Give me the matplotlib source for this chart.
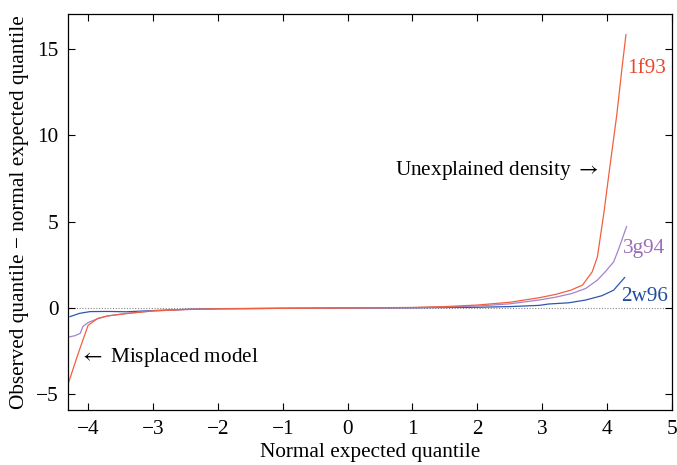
import matplotlib
matplotlib.use("Agg")
import matplotlib.pyplot as plt

plt.rcParams['font.family'] = ['Liberation Serif', 'DejaVu Serif']
plt.rcParams['mathtext.fontset'] = 'stix'

# quantile differences, observed - expected, for three structures
x_1f93 = [-4.30, -4.15, -4.00, -3.85, -3.70, -3.40, -3.00, -2.50, -2.00, -1.00,
          0.00, 1.00, 1.50, 2.00, 2.50, 2.95, 3.20, 3.44, 3.62, 3.77, 3.85,
          3.95, 4.04, 4.15, 4.23, 4.29]
y_1f93 = [-4.30, -2.60, -1.00, -0.60, -0.46, -0.32, -0.17, -0.09, -0.05, -0.02,
          0.00, 0.03, 0.08, 0.17, 0.33, 0.59, 0.78, 1.03, 1.32, 2.09, 2.95,
          5.50, 8.10, 11.20, 13.90, 15.80]

x_3g94 = [-4.30, -4.20, -4.12, -4.08, -4.00, -3.85, -3.70, -3.40, -3.00, -2.50,
          -2.00, -1.00, 0.00, 1.00, 1.50, 2.00, 2.50, 2.95, 3.20, 3.46, 3.67,
          3.85, 3.97, 4.10, 4.18, 4.30]
y_3g94 = [-1.68, -1.60, -1.46, -1.07, -0.84, -0.62, -0.46, -0.31, -0.17, -0.09,
          -0.05, -0.02, 0.00, 0.02, 0.06, 0.11, 0.24, 0.46, 0.62, 0.84, 1.13,
          1.61, 2.09, 2.66, 3.43, 4.71]

x_2w96 = [-4.28, -4.13, -3.97, -3.70, -3.41, -3.00, -2.50, -2.00, -1.00, 0.00,
          1.00, 2.00, 2.50, 2.95, 3.10, 3.41, 3.67, 3.92, 4.10, 4.27]
y_2w96 = [-0.50, -0.31, -0.21, -0.20, -0.22, -0.15, -0.08, -0.04, -0.02, 0.00,
          0.01, 0.04, 0.08, 0.15, 0.23, 0.30, 0.46, 0.71, 1.03, 1.76]

fs = 15.3

fig = plt.figure(figsize=(6.77, 4.65), dpi=100)
ax = fig.add_axes([68/677, 55/465, 604/677, 396/465])

ax.axhline(0, color='#888888', lw=0.8, ls=(0, (1, 1.5)), zorder=1)
ax.plot(x_2w96, y_2w96, color='#2f55b0', lw=0.9)
ax.plot(x_3g94, y_3g94, color='#a583cc', lw=0.9)
ax.plot(x_1f93, y_1f93, color='#f2603e', lw=0.9)

ax.text(4.31, 13.85, '1f93', color='#e9472c', fontsize=fs, va='center', ha='left')
ax.text(4.24, 3.45, '3g94', color='#9c6cba', fontsize=fs, va='center', ha='left')
ax.text(4.21, 0.69, '2w96', color='#1f4e9e', fontsize=fs, va='center', ha='left')
ax.text(3.87, 7.93, r'Unexplained density $\rightarrow$', fontsize=fs,
        va='center', ha='right')
ax.text(-4.14, -2.87, r'$\leftarrow$ Misplaced model', fontsize=fs,
        va='center', ha='left')

ax.set_xlim(-4.31, 5)
ax.set_ylim(-5.9, 17)
ax.set_xticks(range(-4, 6))
ax.set_yticks([-5, 0, 5, 10, 15])
ax.set_xticklabels([str(v).replace('-', '\u2212') for v in range(-4, 6)])
ax.set_yticklabels([str(v).replace('-', '\u2212') for v in [-5, 0, 5, 10, 15]])
ax.tick_params(direction='in', top=True, right=True, length=5, width=0.8,
               labelsize=fs, pad=7)
for s in ax.spines.values():
    s.set_linewidth(0.9)

ax.set_xlabel('Normal expected quantile', fontsize=fs, labelpad=3)
ax.set_ylabel('Observed quantile \u2212 normal expected quantile', fontsize=fs,
              labelpad=5)

fig.savefig('out.png', dpi=100)
